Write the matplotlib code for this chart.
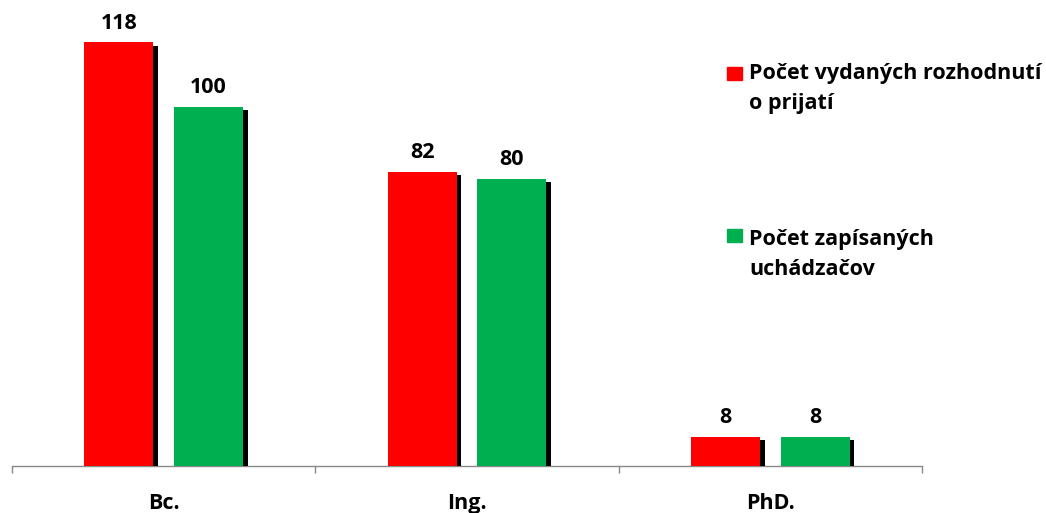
import matplotlib
matplotlib.use("Agg")
import matplotlib.pyplot as plt
import matplotlib.patheffects as pe
from matplotlib.patches import Rectangle
import numpy as np

categories = ["Bc.", "Ing.", "PhD."]
series_names = ["Počet vydaných rozhodnutí\no prijatí", "Počet zapísaných\nuchádzačov"]
issued = [118, 82, 8]
enrolled = [100, 80, 8]
colors = ["#FF0000", "#00B050"]

W, H, DPI = 1046, 513, 100
fig = plt.figure(figsize=(W / DPI, H / DPI), dpi=DPI)
plt.rcParams['font.family'] = ['Open Sans', 'DejaVu Sans']
FS = 15.5

ax_left, ax_right, ax_bottom_px = 12, 922, 465.5
ax = fig.add_axes([ax_left / W, (H - ax_bottom_px) / H, (ax_right - ax_left) / W, ax_bottom_px / H])
px_per_unit = 3.585
ax.set_ylim(0, ax_bottom_px / px_per_unit)
ax.set_xlim(-0.5, len(categories) - 0.5)

x = np.arange(len(categories))
width = 0.228
offset = 0.148
shadow = [pe.SimplePatchShadow(offset=(3.3, -2.2), shadow_rgbFace="black", alpha=1.0), pe.Normal()]

for vals, col, sgn in [(issued, colors[0], -1), (enrolled, colors[1], 1)]:
    bars = ax.bar(x + sgn * offset, vals, width, color=col, zorder=3)
    for b, v in zip(bars, vals):
        b.set_path_effects(shadow)
        ax.annotate(str(v), (b.get_x() + b.get_width() / 2, v), xytext=(0, 10),
                    textcoords="offset points", ha="center", va="baseline",
                    fontsize=FS, fontweight="bold", color="black")

for s in ["top", "right", "left"]:
    ax.spines[s].set_visible(False)
ax.spines["bottom"].set_color("#888888")
ax.spines["bottom"].set_linewidth(1.0)
ax.set_yticks([])
ax.set_xticks(np.arange(-0.5, len(categories), 1.0))
ax.set_xticklabels([])
ax.tick_params(axis="x", which="major", length=5, color="#888888", width=1.0)
ax.set_xticks(x, minor=True)
ax.set_xticklabels(categories, minor=True, fontsize=FS, fontweight="bold")
ax.tick_params(axis="x", which="minor", length=0, pad=19.5)

# legend drawn manually
leg_items = [(series_names[0], colors[0], 67, 79), (series_names[1], colors[1], 229, 245)]
for name, col, sq_top, base in leg_items:
    fig.patches.append(Rectangle((727 / W, (H - sq_top - 13) / H), 15 / W, 13 / H,
                                 transform=fig.transFigure, color=col))
    for i, line in enumerate(name.split("\n")):
        fig.text(749 / W, (H - base - 30 * i) / H, line, ha="left", va="baseline",
                 fontsize=FS, fontweight="bold", color="black")

fig.savefig("out.png", dpi=DPI)
